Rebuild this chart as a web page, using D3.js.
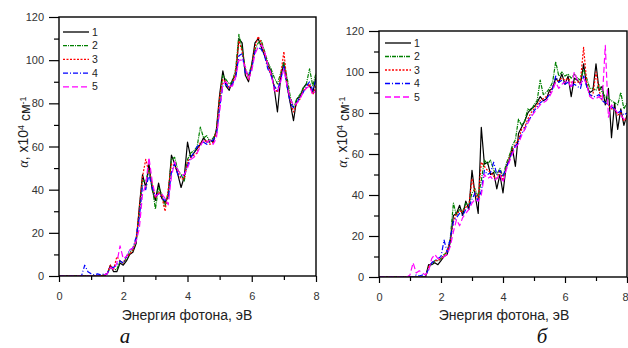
<!DOCTYPE html>
<html>
<head>
<meta charset="utf-8">
<script src="https://cdn.jsdelivr.net/npm/d3@7"></script>
<style>
  body { margin: 0; background: #fff; }
  svg { display: block; font-family: "Liberation Sans", Arial, sans-serif; }
</style>
</head>
<body>
<svg id="chart" width="628" height="348"></svg>
<script>
// photon energy, eV (same grid for every curve)
const energy = [
  0.0, 0.1, 0.2, 0.3, 0.4, 0.5, 0.6, 0.7, 0.8, 0.9,
  1.0, 1.1, 1.2, 1.3, 1.4, 1.5, 1.6, 1.7, 1.8, 1.9,
  2.0, 2.1, 2.2, 2.3, 2.4, 2.5, 2.6, 2.7, 2.8, 2.9,
  3.0, 3.1, 3.2, 3.3, 3.4, 3.5, 3.6, 3.7, 3.8, 3.9,
  4.0, 4.1, 4.2, 4.3, 4.4, 4.5, 4.6, 4.7, 4.8, 4.9,
  5.0, 5.1, 5.2, 5.3, 5.4, 5.5, 5.6, 5.7, 5.8, 5.9,
  6.0, 6.1, 6.2, 6.3, 6.4, 6.5, 6.6, 6.7, 6.8, 6.9,
  7.0, 7.1, 7.2, 7.3, 7.4, 7.5, 7.6, 7.7, 7.8, 7.9, 8.0
];

const seriesNames = ['1', '2', '3', '4', '5'];
const xTicks = [0, 2, 4, 6, 8];
const xMinorTicks = [1, 3, 5, 7];
const yTicks = [0, 20, 40, 60, 80, 100, 120];
const yMinorTicks = [10, 30, 50, 70, 90, 110];
const panelLabels = ['а', 'б'];
const xTitle = 'Энергия фотона, эВ';

// panel a: absorption, x10^4 cm^-1
const a1 = [0,0,0,0,0,0,0,0,0,0,0,0,0,0,0,1,
  5,2,2,6,5,7,10,11,15,32,
  47,41,52,40,35,43,36,34,37,56,
  52,47,41,46,62,55,57,59,61,64,
  62,63,62,68,84,95,88,86,91,93,
  110,108,93,90,98,108,110,106,102,98,
  95,87,76,92,99,88,80,72,82,83,
  87,89,88,85,92];
const a2 = [0,0,0,0,0,0,0,0,0,0,0,0,0,0,0.5,1,
  4,3,3,7,6,8,11,12,16,29,
  44,44,49,42,31,41,38,32,39,54,
  55,49,47,44,54,57,58,60,69,64,
  65,62,64,67,81,93,91,89,90,96,
  112,105,96,93,98,105,108,109,104,99,
  96,92,89,94,99,92,83,78,82,84,
  87,89,96,88,94];
const a3 = [0,0,0,0,0,0,0,0,0,0,0,0,0,0,0.5,1,
  5,3,9,7,6,9,10,12,17,31,
  46,54,48,43,36,39,37,30,40,52,
  51,48,45,45,53,55,56,57,62,62,
  63,61,62,67,83,91,90,87,89,95,
  109,104,96,91,97,106,111,108,103,97,
  93,88,85,93,104,89,81,76,80,82,
  86,87,89,84,88];
const a4 = [0,0,0,0,0,0,0,0,5,2,1,0.5,1,0.5,1,1,
  4,4,5,7,6,9,12,13,18,27,
  42,40,47,41,37,38,36,35,36,48,
  52,47,46,47,51,55,57,60,61,62,
  61,62,63,65,78,88,89,87,89,92,
  102,103,94,93,96,104,106,105,102,96,
  93,88,86,91,97,88,80,78,80,83,
  85,88,90,86,91];
const a5 = [0,0,0,0,0,0,0,0,0,0,0,0,0,0,0.5,1,
  4,3,6,14,8,9,12,13,16,22,
  38,42,55,44,37,38,38,36,33,46,
  53,49,47,47,50,54,55,57,60,63,
  62,63,61,64,76,89,90,88,88,92,
  100,100,97,91,95,103,106,107,104,98,
  94,86,85,90,96,88,82,79,80,82,
  85,87,88,84,86];

// panel б
const b1 = [0,0,0,0,0,0,0,0,0,0,0,0,0,0,0,0,
  6,6,7,6,8,10,11,17,30,31,
  35,30,37,33,52,40,31,73,55,56,
  50,51,43,50,41,54,57,63,54,70,
  73,76,80,82,83,85,88,86,87,91,
  92,97,95,99,94,98,88,97,96,94,
  104,93,90,91,104,91,93,84,92,68,
  85,72,82,74,79];
const b2 = [0,0,0,0,0,0,0,0,0,0,0,0,0,0,0,0,
  5,6,8,8,9,11,12,19,36,30,
  33,32,36,35,41,43,39,47,57,55,
  57,52,50,53,49,55,59,64,67,77,
  74,76,82,81,84,86,96,89,90,92,
  95,105,98,100,98,99,97,99,97,96,
  101,97,92,92,91,94,90,88,87,86,
  85,84,90,82,85];
const b3 = [0,0,0,0,0,0,0,0,0,0,0,0,0,0,0,0,
  5,7,8,8,9,10,13,18,27,31,
  32,32,34,35,48,41,38,56,54,52,
  51,49,48,52,47,53,58,62,65,67,
  72,73,77,80,82,84,86,87,88,89,
  93,95,96,97,96,97,95,95,95,96,
  112,95,88,89,100,91,86,85,84,82,
  82,79,80,76,78];
const b4 = [0,0,0,0,0,0,0,0,0,0,0,0,1,0.5,1,0.5,
  4,7,8,9,10,18,12,19,27,29,
  31,30,33,34,38,41,37,42,52,50,
  51,56,50,52,49,53,57,61,64,66,
  70,72,76,78,81,83,85,86,87,89,
  92,98,95,96,94,95,93,94,93,92,
  98,93,89,88,88,89,86,85,84,83,
  82,80,81,79,80];
const b5 = [0,0,0,0,0,0,0,0,0,0,1,7,2,3,2,1,
  3,9,11,9,9,10,11,15,22,28,
  25,29,31,33,36,38,37,40,50,48,
  49,47,48,50,46,52,56,60,63,65,
  69,72,75,78,80,82,84,85,86,88,
  91,95,92,94,95,96,92,100,96,94,
  97,94,88,87,87,88,86,113,78,84,
  82,80,79,77,78];

// line looks, one per series
const lineStyles = [
  { color: '#000000', dash: null },
  { color: '#008000', dash: '4,1,1,1' },
  { color: '#ff0000', dash: '2,1.5' },
  { color: '#0000ff', dash: '5,2,1,2' },
  { color: '#ff00ff', dash: '6,3' }
];

const svg = d3.select('#chart');
svg.append('rect').attr('width', 628).attr('height', 348).attr('fill', '#fff');

function drawPanel(id, series, box, legend, titles) {
  const x = d3.scaleLinear().domain([0, 8]).range([box.left, box.right]);
  const y = d3.scaleLinear().domain([0, 120]).range([box.bottom, box.top]);
  const g = svg.append('g').attr('class', 'panel-' + id);

  g.append('clipPath')
    .attr('id', 'clip-' + id)
    .append('rect')
    .attr('x', box.left).attr('y', box.top)
    .attr('width', box.right - box.left)
    .attr('height', box.bottom - box.top);

  // data lines
  const line = d3.line()
    .x((d, i) => x(energy[i]))
    .y(d => y(d));

  g.append('g')
    .attr('clip-path', `url(#clip-${id})`)
    .selectAll('path')
    .data(series)
    .join('path')
    .attr('d', d => line(d))
    .attr('fill', 'none')
    .attr('stroke', (d, i) => lineStyles[i].color)
    .attr('stroke-width', 1.2)
    .attr('stroke-dasharray', (d, i) => lineStyles[i].dash)
    .attr('stroke-linejoin', 'round');

  // axes
  const xAxis = g.append('g')
    .attr('transform', `translate(0,${box.bottom})`)
    .call(d3.axisBottom(x).tickValues(xTicks).tickSize(6).tickSizeOuter(0).tickPadding(10).tickFormat(d3.format('d')));
  g.append('g')
    .attr('transform', `translate(0,${box.bottom})`)
    .call(d3.axisBottom(x).tickValues(xMinorTicks).tickSize(4).tickSizeOuter(0).tickFormat(''));

  // last label would fall off the picture's right edge: keep it inside
  if (box.right > 620) {
    xAxis.selectAll('.tick text').filter(d => d === 8).attr('text-anchor', 'end').attr('x', 1);
  }

  g.append('g')
    .attr('transform', `translate(${box.left},0)`)
    .call(d3.axisLeft(y).tickValues(yTicks).tickSize(10).tickSizeOuter(0).tickPadding(5));
  g.append('g')
    .attr('transform', `translate(${box.left},0)`)
    .call(d3.axisLeft(y).tickValues(yMinorTicks).tickSize(5).tickSizeOuter(0).tickFormat(''));

  g.selectAll('.domain').remove();
  g.selectAll('.tick line').attr('stroke', '#000').attr('stroke-width', 1.2);
  g.selectAll('.tick text')
    .attr('fill', '#333')
    .style('font-size', '11px')
    .style('font-family', '"Liberation Sans", Arial, sans-serif');

  // frame
  g.append('rect')
    .attr('x', box.left).attr('y', box.top)
    .attr('width', box.right - box.left)
    .attr('height', box.bottom - box.top)
    .attr('fill', 'none')
    .attr('stroke', '#000')
    .attr('stroke-width', 1.4);

  // legend
  const leg = g.append('g');
  seriesNames.forEach((name, i) => {
    const ly = legend.top + i * legend.step;
    leg.append('line')
      .attr('x1', legend.left).attr('x2', legend.left + 26)
      .attr('y1', ly).attr('y2', ly)
      .attr('stroke', lineStyles[i].color)
      .attr('stroke-width', 1.3)
      .attr('stroke-dasharray', lineStyles[i].dash);
    leg.append('text')
      .attr('x', legend.left + 29).attr('y', ly)
      .attr('dy', '0.35em')
      .attr('fill', '#222')
      .style('font-size', '10.5px')
      .text(name);
  });

  // axis titles
  g.append('text')
    .attr('x', titles.xCenter).attr('y', titles.xBaseline)
    .attr('text-anchor', 'middle')
    .attr('fill', '#222')
    .style('font-size', '14px')
    .text(xTitle);

  const yt = g.append('text')
    .attr('transform', `translate(${titles.yCenter},${titles.yMid}) rotate(-90)`)
    .attr('text-anchor', 'middle')
    .attr('dy', '0.35em')
    .attr('fill', '#222')
    .style('font-size', '14px');
  yt.append('tspan').style('font-family', '"Liberation Serif", serif').style('font-style', 'italic').text('α');
  yt.append('tspan').text(', x10');
  yt.append('tspan').attr('dy', '-0.45em').style('font-size', '9px').text('4');
  yt.append('tspan').attr('dy', '0.45em').text(' см');
  yt.append('tspan').attr('dy', '-0.45em').style('font-size', '9px').text('-1');

  // panel letter
  g.append('text')
    .attr('x', titles.labelX).attr('y', 343)
    .attr('text-anchor', 'middle')
    .attr('fill', '#111')
    .style('font-family', '"Liberation Serif", "DejaVu Serif", serif')
    .style('font-style', 'italic')
    .style('font-size', '21px')
    .text(titles.label);
}

drawPanel('a', [a1, a2, a3, a4, a5],
  { left: 59, right: 316, top: 17, bottom: 276 },
  { left: 63, top: 32, step: 13.7 },
  { xCenter: 187, xBaseline: 320, yCenter: 23, yMid: 132, labelX: 125, label: panelLabels[0] });

drawPanel('b', [b1, b2, b3, b4, b5],
  { left: 379, right: 627, top: 31, bottom: 277 },
  { left: 385, top: 43, step: 13.5 },
  { xCenter: 504, xBaseline: 320, yCenter: 342, yMid: 132, labelX: 542, label: panelLabels[1] });
</script>
</body>
</html>
